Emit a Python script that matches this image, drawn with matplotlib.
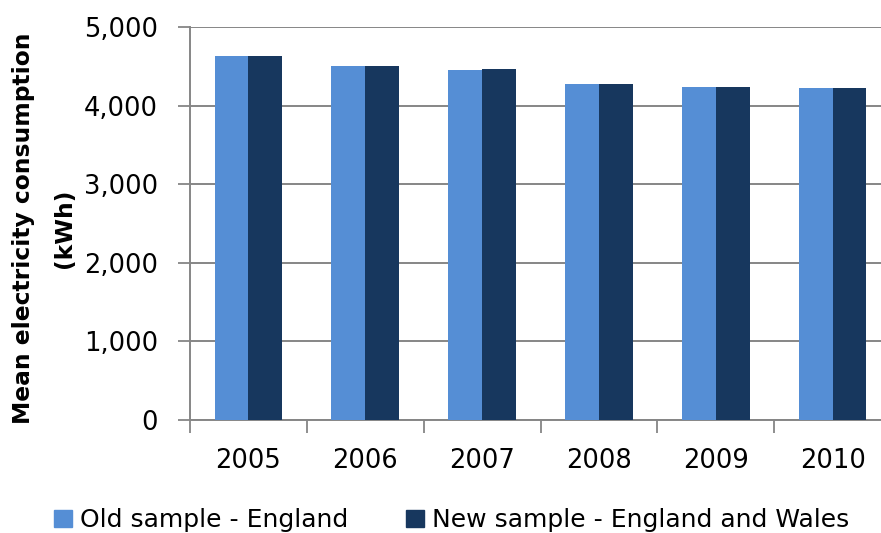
import matplotlib
matplotlib.use("Agg")
import matplotlib.pyplot as plt
from matplotlib.patches import Patch
from matplotlib.ticker import FuncFormatter, FixedLocator
import numpy as np

years = ["2005", "2006", "2007", "2008", "2009", "2010"]
old_england = [4636, 4505, 4454, 4272, 4234, 4221]
new_eng_wales = [4632, 4500, 4463, 4272, 4238, 4225]

OLD_COL = "#558ed5"
NEW_COL = "#17375e"
AXIS_COL = "#868686"

plt.rcParams["font.family"] = ["DejaVu Sans"]

fig = plt.figure(figsize=(8.81, 5.33), dpi=100)
ax = fig.add_axes([190 / 881, 1 - 420 / 533, 701 / 881, 393 / 533])

x = np.arange(len(years))
w = 0.29
ax.bar(x - w / 2, old_england, w, color=OLD_COL, zorder=3)
ax.bar(x + w / 2, new_eng_wales, w, color=NEW_COL, zorder=3)

ax.set_xlim(-0.5, len(years) - 0.5)
ax.set_ylim(0, 5000)
ax.set_yticks(np.arange(0, 5001, 1000))
ax.yaxis.set_major_formatter(FuncFormatter(lambda v, p: "{:,.0f}".format(v)))
ax.yaxis.grid(True, color=AXIS_COL, linewidth=1.4, zorder=0)

# category boundaries get the tick marks, labels sit in between
ax.xaxis.set_major_locator(FixedLocator(np.arange(-0.5, len(years), 1.0)))
ax.xaxis.set_minor_locator(FixedLocator(x))
ax.set_xticklabels([])
ax.set_xticklabels(years, minor=True)
ax.tick_params(axis="x", which="major", length=9, width=1.3, color=AXIS_COL)
ax.tick_params(axis="x", which="minor", length=0, pad=20, labelsize=18.5)
ax.tick_params(axis="y", length=9, width=1.3, color=AXIS_COL, pad=14, labelsize=18.5)

for s in ["top", "right"]:
    ax.spines[s].set_visible(False)
for s in ["left", "bottom"]:
    ax.spines[s].set_color(AXIS_COL)
    ax.spines[s].set_linewidth(1.4)

fig.text(24 / 881, 1 - 228 / 533, "Mean electricity consumption",
         rotation=90, ha="center", va="center", fontsize=16.8, fontweight="bold")
fig.text(64 / 881, 1 - 228 / 533, "(kWh)",
         rotation=90, ha="center", va="center", fontsize=16.8, fontweight="bold")

handles = [Patch(color=OLD_COL, label="Old sample - England"),
           Patch(color=NEW_COL, label="New sample - England and Wales")]
fig.legend(handles=handles, loc="center", bbox_to_anchor=(0.513, 0.024), ncol=2,
           frameon=False, fontsize=18, handlelength=0.7, handleheight=0.7,
           handletextpad=0.35, columnspacing=2.3, borderpad=0.1)

plt.savefig("out.png", dpi=100)
plt.close()
